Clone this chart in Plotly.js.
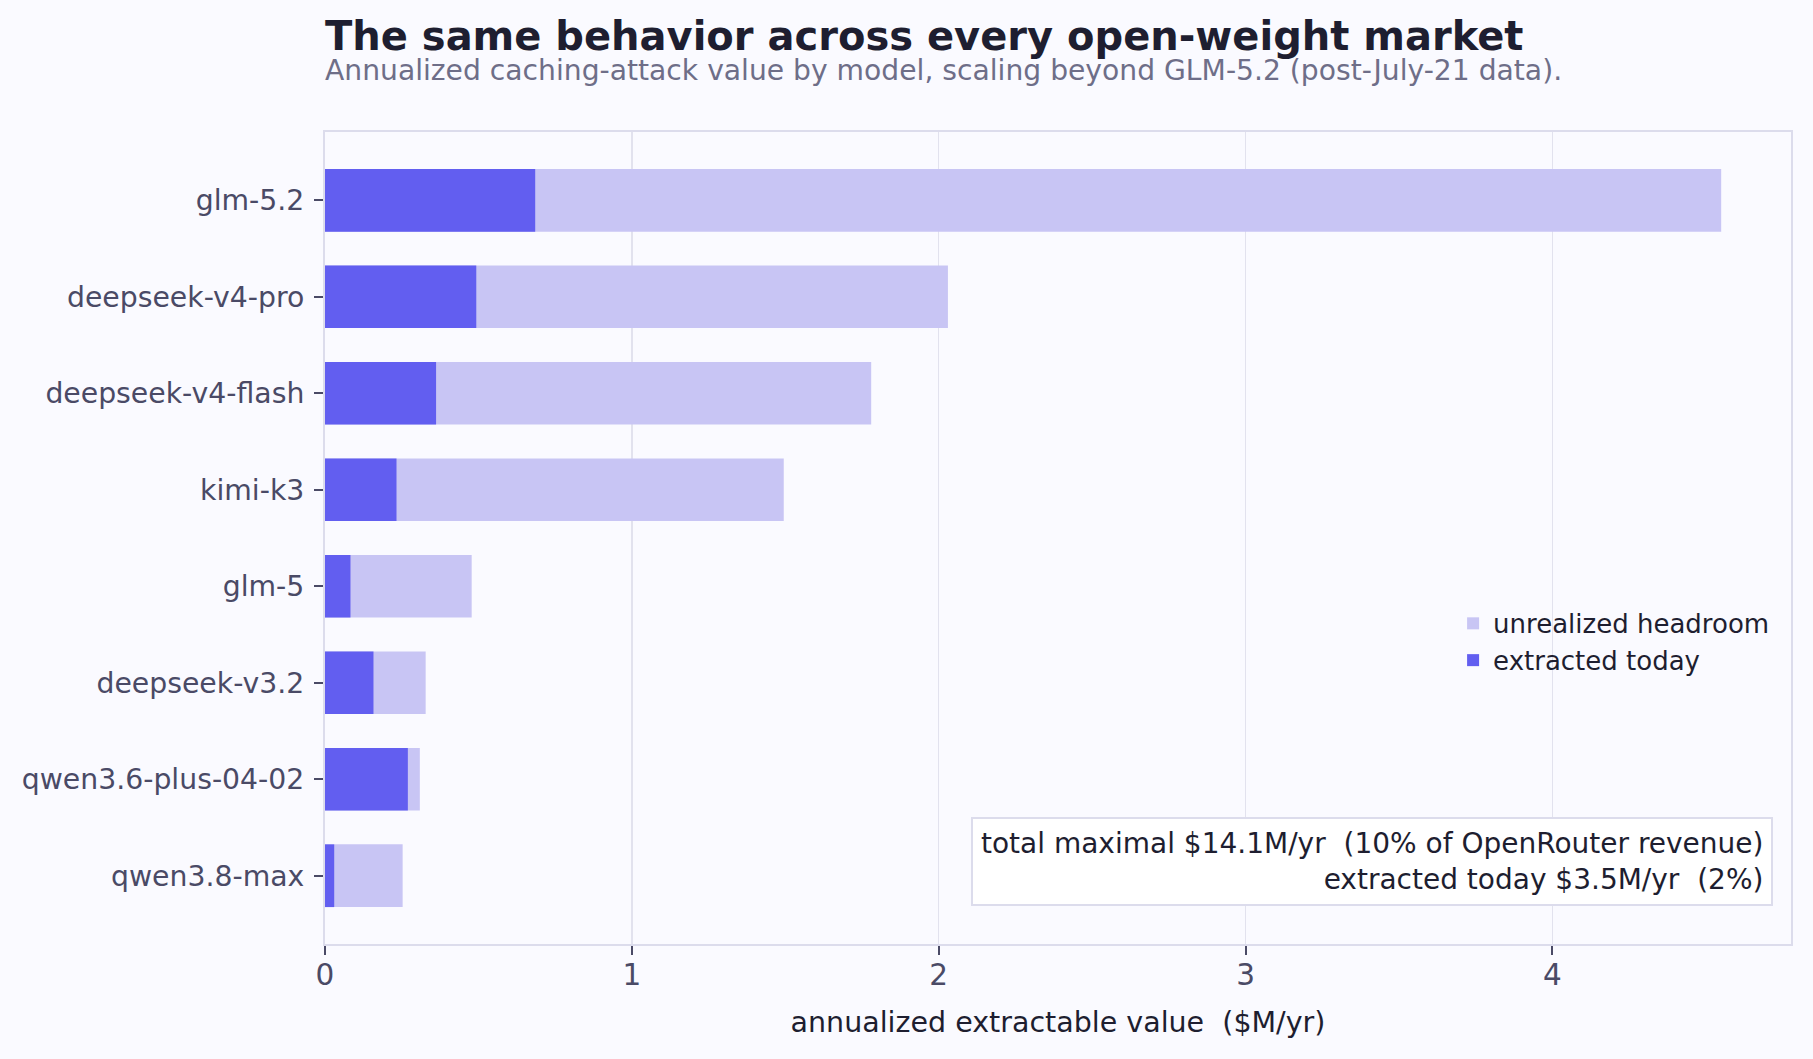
<!DOCTYPE html>
<html>
<head>
<meta charset="utf-8">
<script src="https://cdn.plot.ly/plotly-3.0.1.min.js"></script>
<style>
  html, body { margin: 0; padding: 0; background: #fafaff; }
</style>
</head>
<body>
<div id="plot" style="width:1813px;height:1059px;"></div>
<script>
// models, top to bottom
var models = ['glm-5.2', 'deepseek-v4-pro', 'deepseek-v4-flash', 'kimi-k3',
              'glm-5', 'deepseek-v3.2', 'qwen3.6-plus-04-02', 'qwen3.8-max'];

// annualized value, $M/yr
var maximal = [4.55, 2.03, 1.78, 1.495, 0.478, 0.328, 0.309, 0.253];
var extracted = [0.685, 0.493, 0.362, 0.233, 0.083, 0.158, 0.270, 0.030];

var xTicks = [0, 1, 2, 3, 4];

var font = 'DejaVu Sans, sans-serif';

var trace1 = {
  y: models,
  x: maximal,
  type: 'bar',
  orientation: 'h',
  name: 'unrealized headroom',
  marker: { color: '#c8c5f4', opacity: 1 },
  hoverinfo: 'skip'
};

var trace2 = {
  y: models,
  x: extracted,
  type: 'bar',
  orientation: 'h',
  name: 'extracted today',
  marker: { color: '#625ef0', opacity: 1 },
  hoverinfo: 'skip'
};

var data = [trace1, trace2];

var layout = {
  width: 1813,
  height: 1059,
  paper_bgcolor: '#fafaff',
  plot_bgcolor: '#fafaff',
  margin: { l: 325, r: 22, t: 132, b: 115 },
  barmode: 'overlay',
  bargap: 0.35,
  font: { family: font, color: '#4a4a66' },
  title: {
    text: '<b>The same behavior across every open-weight market</b>',
    font: { family: font, size: 40, color: '#1e1e30' },
    xref: 'paper', x: 0, xanchor: 'left',
    yref: 'container', y: 1 - 36 / 1059, yanchor: 'middle'
  },
  xaxis: {
    range: [0, 4.7775],
    tickvals: xTicks,
    ticktext: xTicks.map(String),
    tickfont: { size: 29.5, color: '#4a4a66' },
    ticks: 'outside', ticklen: 9, tickwidth: 2, tickcolor: '#4a4a66',
    ticklabelstandoff: -5,
    showgrid: true, gridcolor: '#e2e2ee', gridwidth: 1.5,
    zeroline: false,
    showline: true, linecolor: '#dcdcec', linewidth: 2, mirror: true,
    title: {
      text: 'annualized extractable value  ($M/yr)',
      font: { size: 28.5, color: '#1e1e30' },
      standoff: 21
    }
  },
  yaxis: {
    type: 'category',
    range: [7.7075, -0.7075],
    tickfont: { size: 28.3, color: '#4a4a66' },
    ticks: 'outside', ticklen: 9, tickwidth: 2, tickcolor: '#4a4a66',
    ticklabelstandoff: 4,
    showgrid: false,
    zeroline: false,
    showline: true, linecolor: '#dcdcec', linewidth: 2, mirror: true
  },
  showlegend: true,
  legend: {
    x: 0.7695, xanchor: 'left',
    y: 0.372, yanchor: 'middle',
    bgcolor: 'rgba(0,0,0,0)',
    font: { size: 26, color: '#1e1e30' },
    traceorder: 'normal'
  },
  annotations: [
    {
      text: 'Annualized caching-attack value by model, scaling beyond GLM-5.2 (post-July-21 data).',
      xref: 'paper', x: 0, xanchor: 'left', xshift: -2,
      yref: 'paper', y: 1 + (132.5 - 71) / 811.5, yanchor: 'middle',
      showarrow: false,
      font: { size: 28.2, color: '#6e6e88' }
    },
    {
      text: 'total maximal $14.1M/yr  (10% of OpenRouter revenue)<br>extracted today $3.5M/yr  (2%)',
      xref: 'paper', x: 0.9877, xanchor: 'right',
      yref: 'paper', y: 0.0468, yanchor: 'bottom',
      align: 'right',
      showarrow: false,
      bgcolor: '#ffffff',
      bordercolor: '#dcdcec',
      borderwidth: 2,
      borderpad: 8,
      font: { size: 28, color: '#1e1e30' }
    }
  ]
};

Plotly.newPlot('plot', data, layout, { displayModeBar: false, staticPlot: true });
</script>
</body>
</html>
